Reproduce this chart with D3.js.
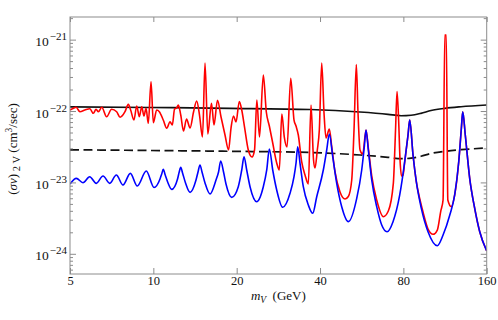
<!DOCTYPE html>
<html><head><meta charset="utf-8">
<script src="https://cdn.jsdelivr.net/npm/d3@7"></script>
<style>
html,body{margin:0;padding:0;background:#fff;}
svg text{font-family:"Liberation Serif","Times New Roman",Times,"DejaVu Serif",serif !important;}
</style></head>
<body><svg id="c" width="498" height="320"></svg>
<script>
// x: vector mass m_V (GeV); y: log10 of (sigma v)_{2V} in cm^3/sec
const xTicks = [5, 10, 20, 40, 80, 160];
const yTickExp = [-21, -22, -23, -24];

const blackMass = [5, 9.73, 18.92, 36.8, 55.8, 70.4, 78.5, 85.3, 92.6, 100.7, 113.1, 129.2, 160];
const blackLog = [-21.941,-21.951,-21.962,-21.979,-22.014,-22.046,-22.066,-22.059,-22.032,-21.993,-21.962,-21.940,-21.916];
const dashedLog = [-22.543,-22.553,-22.564,-22.581,-22.616,-22.648,-22.668,-22.661,-22.634,-22.595,-22.564,-22.542,-22.518];

const blueMass = [5.00,5.27,5.57,5.89,6.22,6.58,6.96,7.35,7.77,8.26,
8.75,9.43,10.06,10.57,10.72,10.86,11.04,11.30,11.65,12.23,
12.40,12.56,12.75,13.07,13.57,14.26,14.50,14.74,14.99,15.37,
16.02,16.84,17.20,17.51,17.93,18.30,19.19,20.27,20.86,21.26,
21.74,22.35,23.63,24.96,25.68,26.24,26.99,27.90,29.33,31.17,
32.22,32.76,33.23,33.87,34.81,36.29,37.64,38.92,41.11,42.29,
43.22,44.46,45.96,47.91,50.62,54.28,56.58,57.82,58.64,59.78,
61.49,64.10,66.82,69.84,73.41,77.62,80.91,83.17,84.35,86.70,
89.10,92.90,98.22,106.1,111.3,117.7,122.6,126.8,129.6,131.1,
133.9,138.9,144.8,151.0,160];
const blueLog = [-23.022,-22.943,-23.004,-22.920,-23.013,-22.910,-23.013,-22.896,-23.036,-22.873,
-23.050,-22.840,-23.071,-22.952,-22.882,-22.817,-22.896,-23.008,-23.097,-22.952,
-22.854,-22.789,-22.868,-23.008,-23.139,-22.966,-22.854,-22.756,-22.854,-23.008,
-23.162,-22.966,-22.854,-22.700,-22.854,-23.022,-23.209,-23.060,-22.826,-22.640,
-22.826,-23.060,-23.270,-23.060,-22.826,-22.532,-22.826,-23.106,-23.349,-23.153,
-22.920,-22.732,-22.500,-22.732,-23.060,-23.317,-23.433,-23.200,-22.826,-22.546,
-22.322,-22.640,-23.013,-23.340,-23.550,-23.223,-22.826,-22.500,-22.266,-22.546,
-22.966,-23.340,-23.597,-23.691,-23.550,-23.176,-22.710,-22.336,-22.126,-22.616,
-22.990,-23.363,-23.691,-23.887,-23.737,-23.457,-23.176,-22.710,-22.242,-22.010,
-22.336,-22.943,-23.363,-23.691,-23.961];

const redMass = [5.00,5.13,5.26,5.43,5.66,5.90,6.07,6.21,6.33,6.51,
6.78,7.07,7.37,7.58,7.90,8.12,8.28,8.51,8.71,8.90,
9.08,9.25,9.41,9.59,9.81,10.00,10.28,10.51,10.86,11.18,
11.49,11.71,11.93,12.13,12.31,12.56,12.85,13.18,13.57,13.97,
14.34,14.68,15.05,15.37,15.73,16.22,16.56,17.05,17.56,18.15,
18.69,19.08,19.48,19.89,20.44,20.86,21.35,22.03,22.72,23.20,
23.65,24.18,24.96,25.59,26.24,26.99,27.90,28.51,29.11,29.72,
30.40,31.35,32.22,32.76,33.39,34.35,35.31,36.29,37.11,37.90,
38.37,39.11,39.77,40.57,41.35,42.05,43.22,44.09,45.32,47.24,
49.24,50.62,52.07,53.07,54.10,54.87,55.79,57.06,58.64,59.78,
61.49,64.10,67.72,70.60,73.60,74.96,75.90,76.91,77.82,78.79,
79.78,80.91,83.17,84.35,86.70,89.10,91.90,94.21,98.22,102.4,
106.1,109.2,111.3,112.9,114.3,115.8,119.2,122.6,126.8,129.6,
131.1,133.9,138.9,144.8,151.0,160];
const redLog = [-21.986,-21.965,-21.948,-22.010,-21.986,-21.968,-22.032,-21.976,-22.010,-21.948,
-22.080,-21.976,-22.010,-22.088,-22.010,-21.906,-21.986,-22.126,-21.930,-22.080,
-21.940,-22.070,-21.962,-22.172,-21.590,-22.164,-21.986,-22.010,-22.126,-22.242,
-22.150,-22.196,-21.972,-21.958,-21.916,-22.056,-22.280,-22.112,-22.238,-22.014,
-21.860,-22.056,-22.364,-21.328,-22.322,-21.892,-22.196,-21.850,-22.084,-22.336,
-22.546,-22.238,-22.070,-22.154,-21.867,-21.986,-22.224,-22.546,-22.644,-22.546,
-21.846,-22.364,-21.496,-22.014,-22.210,-22.448,-22.728,-22.826,-22.042,-22.364,
-22.504,-21.542,-22.126,-22.210,-22.336,-22.714,-22.896,-23.022,-21.916,-22.686,
-22.798,-22.546,-22.266,-21.328,-22.028,-22.378,-22.252,-22.500,-22.854,-23.134,
-23.232,-23.197,-22.966,-22.266,-21.349,-22.028,-22.546,-22.602,-22.266,-22.518,
-22.910,-23.246,-23.480,-23.401,-23.013,-22.266,-21.727,-22.126,-22.686,-22.910,
-22.896,-22.710,-22.336,-22.126,-22.616,-22.990,-23.246,-23.415,-23.653,-23.727,
-23.667,-23.401,-23.246,-20.936,-20.936,-23.246,-23.340,-23.176,-22.710,-22.242,
-22.010,-22.336,-22.943,-23.363,-23.691,-23.961];

const L = 70, R = 486.7, T = 17, B = 274;
const FONT = "'Liberation Serif','Times New Roman',Times,serif";
const svg = d3.select("#c");
const x = d3.scaleLog().domain([5, 160]).range([L, R]);
const y = d3.scaleLog().domain([Math.pow(10, -24.283), Math.pow(10, -20.683)]).range([B, T]);

const toPts = (ms, ls) => ms.map((m, i) => [m, Math.pow(10, ls[i])]);
const line = d3.line().x(d => x(d[0])).y(d => y(d[1])).curve(d3.curveMonotoneX);

svg.append("defs").append("clipPath").attr("id", "clip")
  .append("rect").attr("x", L).attr("y", T).attr("width", R - L).attr("height", B - T);

const g = svg.append("g").attr("clip-path", "url(#clip)");
g.append("path").attr("d", line(toPts(blackMass, blackLog)))
  .attr("fill", "none").attr("stroke", "#111").attr("stroke-width", 1.7);
g.append("path").attr("d", line(toPts(blackMass, dashedLog)))
  .attr("fill", "none").attr("stroke", "#111").attr("stroke-width", 1.7).attr("stroke-dasharray", "9,4.5");
g.append("path").attr("d", line(toPts(redMass, redLog)))
  .attr("fill", "none").attr("stroke", "#ff0000").attr("stroke-width", 1.6).attr("stroke-linejoin", "round");
g.append("path").attr("d", line(toPts(blueMass, blueLog)))
  .attr("fill", "none").attr("stroke", "#0000ff").attr("stroke-width", 1.6).attr("stroke-linejoin", "round");

// axes
const axisColor = "#8c8c8c";
const majorY = yTickExp.map(e => Math.pow(10, e));
const minorY = [];
for (let e = -25; e <= -21; e++) for (let k = 2; k <= 9; k++) {
  const v = k * Math.pow(10, e);
  if (v > y.domain()[0] && v < y.domain()[1]) minorY.push(v);
}
function styleAxis(sel) {
  sel.attr("font-family", FONT);
  sel.select(".domain").remove();
  sel.selectAll(".tick line").attr("stroke", axisColor);
  sel.selectAll(".tick text").attr("fill", "#111").attr("font-size", 12.5)
    .style("font-family", FONT);
}
const gx = svg.append("g").attr("transform", `translate(0,${B})`)
  .call(d3.axisBottom(x).tickValues(xTicks).tickFormat(d3.format("d")).tickSizeInner(-6).tickSizeOuter(0).tickPadding(2));
styleAxis(gx);
const gxt = svg.append("g").attr("transform", `translate(0,${T})`)
  .call(d3.axisTop(x).tickValues(xTicks).tickFormat("").tickSizeInner(-5).tickSizeOuter(0));
styleAxis(gxt);

const gy = svg.append("g").attr("transform", `translate(${L},0)`)
  .call(d3.axisLeft(y).tickValues(majorY).tickFormat(() => "10").tickSizeInner(-6).tickSizeOuter(0).tickPadding(3));
styleAxis(gy);
gy.selectAll(".tick text").attr("dy", "0.45em").attr("font-size", 13.5).each(function(d) {
  const e = Math.round(Math.log10(d));
  d3.select(this).append("tspan").attr("dx", 1).attr("dy", "-0.55em").attr("font-size", 11).text("\u2212" + Math.abs(e));
});
const gym = svg.append("g").attr("transform", `translate(${L},0)`)
  .call(d3.axisLeft(y).tickValues(minorY).tickFormat("").tickSizeInner(-3).tickSizeOuter(0));
styleAxis(gym);
const gyr = svg.append("g").attr("transform", `translate(${R},0)`)
  .call(d3.axisRight(y).tickValues(majorY).tickFormat("").tickSizeInner(-6).tickSizeOuter(0));
styleAxis(gyr);
const gyrm = svg.append("g").attr("transform", `translate(${R},0)`)
  .call(d3.axisRight(y).tickValues(minorY).tickFormat("").tickSizeInner(-3).tickSizeOuter(0));
styleAxis(gyrm);

svg.append("rect").attr("x", L).attr("y", T).attr("width", R - L).attr("height", B - T)
  .attr("fill", "none").attr("stroke", axisColor).attr("stroke-width", 1);

// titles
const xt = svg.append("text").attr("x", (L + R) / 2).attr("y", 300).attr("text-anchor", "middle")
  .attr("font-size", 13).attr("fill", "#111").style("font-family", FONT);
xt.append("tspan").attr("font-style", "italic").text("m");
xt.append("tspan").attr("font-style", "italic").attr("font-size", 9.5).attr("dy", 3).text("V");
xt.append("tspan").attr("dy", -3).text("\u00a0\u00a0(GeV)");

const yt = svg.append("text").attr("transform", "translate(17,149) rotate(-90)").attr("text-anchor", "middle")
  .attr("font-size", 13).attr("fill", "#111").style("font-family", FONT);
yt.append("tspan").text("(");
yt.append("tspan").attr("font-style", "italic").text("\u03c3v");
yt.append("tspan").text(")");
yt.append("tspan").attr("font-size", 10.5).attr("dy", 3).text("\u00a02\u00a0V");
yt.append("tspan").attr("dy", -3).text("\u00a0(cm");
yt.append("tspan").attr("font-size", 9.5).attr("dy", -5).text("3");
yt.append("tspan").attr("dy", 5).text("/sec)");
</script></body></html>
